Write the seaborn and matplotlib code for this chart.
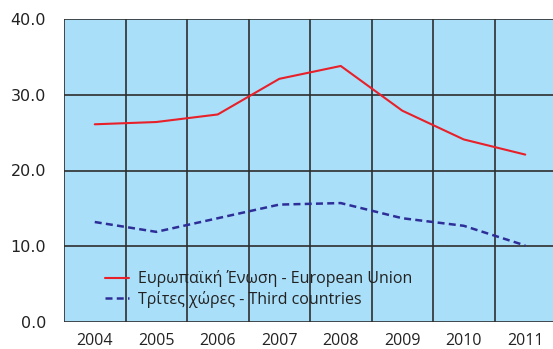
import matplotlib
matplotlib.use("Agg")
import matplotlib.pyplot as plt
from matplotlib.lines import Line2D
import seaborn as sns
import pandas as pd

years = ["2004", "2005", "2006", "2007", "2008", "2009", "2010", "2011"]
eu_values = [26.1, 26.4, 27.4, 32.1, 33.8, 27.9, 24.1, 22.1]
third_values = [13.2, 11.9, 13.7, 15.5, 15.7, 13.7, 12.7, 10.1]
series_names = ["Ευρωπαϊκή Ένωση - European Union", "Τρίτες χώρες - Third countries"]
y_ticks = [0, 10, 20, 30, 40]

sns.set_theme(style="white")
plt.rcParams["font.family"] = ["DejaVu Sans"]

df = pd.DataFrame({
    "x": list(range(len(years))) * 2,
    "value": eu_values + third_values,
    "series": [series_names[0]] * len(years) + [series_names[1]] * len(years),
})

red, navy = "#E8202A", "#2E2E99"
dash = (2.8, 1.7)

fig = plt.figure(figsize=(5.53, 3.49), dpi=100)
ax = fig.add_axes([64 / 553, 1 - 322 / 349, 492 / 553, 303 / 349])
ax.set_facecolor("#AADFF9")

palette = {series_names[0]: red, series_names[1]: navy}
sns.lineplot(data=df, x="x", y="value", hue="series", style="series",
             palette=palette, dashes={series_names[0]: "", series_names[1]: dash},
             ax=ax, legend=False, zorder=3)
for line, lw in zip(ax.lines, [1.5, 1.8]):
    line.set_linewidth(lw)

ax.set_xlim(-0.5, len(years) - 0.5)
ax.set_ylim(0, 40)
ax.set_yticks(y_ticks)
ax.set_yticklabels([f"{v:.1f}" for v in y_ticks], fontsize=11.5, color="#222222")
ax.set_xticks(range(len(years)))
ax.set_xticklabels(years, fontsize=11.5, color="#222222", family=["Open Sans", "DejaVu Sans"])
ax.set_xticks([i - 0.5 for i in range(len(years) + 1)], minor=True)
ax.tick_params(axis="x", which="major", length=0, pad=8)
ax.tick_params(axis="x", which="minor", length=4, width=1.2, color="#333333", direction="out")
ax.tick_params(axis="y", which="major", length=8, width=1.2, color="#333333", direction="out", pad=5)
ax.set_xlabel("")
ax.set_ylabel("")

# cell grid: horizontal at each value tick, vertical between categories
ax.grid(False)
for v in y_ticks:
    ax.axhline(v, color="#2E2E2E", lw=1.2, zorder=1)
for i in range(len(years) + 1):
    ax.axvline(i - 0.5, color="#2E2E2E", lw=1.2, zorder=1)
for s in ax.spines.values():
    s.set_visible(False)

handles = [Line2D([], [], color=red, lw=1.5),
           Line2D([], [], color=navy, lw=1.8, dashes=dash)]
leg = ax.legend(handles, series_names, loc="lower left", bbox_to_anchor=(0.055, 0.0),
                frameon=False, handlelength=1.5, handletextpad=0.55, labelspacing=0.2,
                prop={"family": ["Open Sans", "DejaVu Sans"], "size": 11.5})
for t in leg.get_texts():
    t.set_color("#222222")

fig.savefig("out.png", dpi=100)
